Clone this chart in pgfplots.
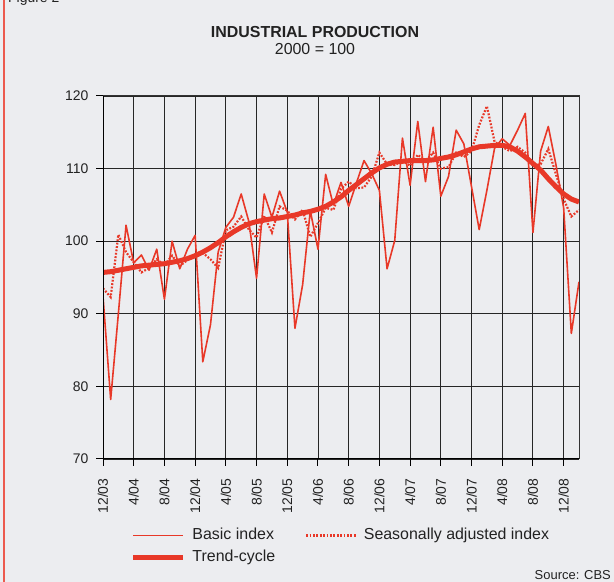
\documentclass[border=0pt]{standalone}
\usepackage{pgfplots}
\pgfplotsset{compat=1.18}
\usepackage{pgfplotstable}
\usepackage{fontspec}
\setmainfont{Liberation Sans}
\definecolor{bg}{RGB}{236,237,240}
\definecolor{ipred}{RGB}{232,56,40}
\definecolor{framered}{RGB}{236,90,78}
\definecolor{txt}{RGB}{34,34,34}
\pgfplotstableread{
i basic sa trend
0 92.4 93.5 95.7
1 78.2 92.3 95.8
2 90.0 100.9 96.0
3 102.2 98.5 96.2
4 97.0 97.1 96.4
5 98.1 95.7 96.6
6 96.0 96.3 96.7
7 98.9 97.5 96.8
8 92.0 96.7 96.9
9 100.0 98.0 97.1
10 96.2 96.6 97.3
11 98.9 97.4 97.6
12 100.8 98.2 98.0
13 83.4 98.4 98.5
14 88.5 97.5 99.1
15 98.5 96.3 99.8
16 101.9 101.5 100.6
17 103.3 102.0 101.3
18 106.5 103.4 101.9
19 102.7 101.6 102.4
20 94.9 100.5 102.7
21 106.5 103.5 102.9
22 103.3 101.2 103.1
23 106.9 104.8 103.2
24 104.0 104.2 103.4
25 88.0 103.0 103.6
26 94.0 104.3 103.9
27 104.2 100.6 104.1
28 98.9 102.5 104.4
29 109.2 104.6 104.8
30 105.0 104.3 105.4
31 108.1 107.2 106.1
32 104.8 108.2 107.0
33 108.0 107.3 107.8
34 111.1 107.4 108.6
35 109.3 108.9 109.4
36 107.0 112.2 110.1
37 96.2 110.6 110.6
38 100.1 110.5 110.9
39 114.2 111.1 111.0
40 107.7 110.4 111.1
41 116.5 111.9 111.1
42 108.2 111.0 111.1
43 115.7 112.2 111.2
44 106.2 110.0 111.4
45 108.9 110.2 111.6
46 115.3 112.2 111.9
47 113.4 111.6 112.3
48 107.5 112.4 112.7
49 101.6 116.0 113.0
50 107.0 118.6 113.1
51 112.8 113.7 113.2
52 114.1 113.0 113.2
53 113.2 112.4 113.0
54 115.3 113.0 112.4
55 117.6 112.2 111.6
56 101.2 110.4 110.7
57 112.4 110.6 109.8
58 115.8 112.7 108.6
59 110.5 109.2 107.5
60 104.6 105.8 106.5
61 87.3 103.4 105.8
62 94.4 104.3 105.4
}\data
\begin{document}
\begin{tikzpicture}[x=1bp,y=1bp]
\useasboundingbox (0,0) rectangle (614,582);
\fill[bg] (0,0) rectangle (614,582);
\draw[framered, line width=2bp] (3.5,0) -- (3.5,582);
\node[anchor=base west, font=\fontsize{14}{16}\selectfont, text=txt, inner sep=0pt] at (8,579) {Figure 2};
\node[anchor=base, font=\fontsize{16}{19}\selectfont\bfseries, text=txt, inner sep=0pt] at (315,544) {INDUSTRIAL PRODUCTION};
\node[anchor=base, font=\fontsize{16}{19}\selectfont, text=txt, inner sep=0pt] at (315,527) {2000 = 100};
\node[anchor=base east, font=\fontsize{13}{15}\selectfont, text=txt, inner sep=0pt] at (611,2.5) {Source: CBS};
\begin{axis}[
  at={(103bp,123bp)}, anchor=south west, scale only axis,
  width=476bp, height=363bp,
  xmin=0, xmax=62, ymin=70, ymax=120,
  xtick={0,4,...,60},
  xticklabels={12/03,4/04,8/04,12/04,4/05,8/05,12/05,4/06,8/06,12/06,4/07,8/07,12/07,4/08,8/08,12/08},
  ytick={70,80,...,120},
  grid=major,
  major grid style={black!85, line width=0.9bp},
  axis line style={black!80, line width=1bp},
  tick align=outside, tick pos=left,
  major tick length=7bp,
  tick style={black, line width=1bp},
  /pgf/number format/assume math mode=true,
  xticklabel shift=9bp,
  yticklabel shift=4bp,
  xticklabel style={rotate=90, anchor=east, font=\fontsize{14}{16}\selectfont, text=txt},
  yticklabel style={font=\fontsize{14}{16}\selectfont, text=txt},
  legend image code/.code={\draw[#1] (0bp,0bp) -- (50bp,0bp);},
  legend style={
    at={(axis description cs:0.0588,-0.19)}, anchor=north west,
    draw=none, fill=none, inner sep=0pt, outer sep=0pt,
    legend columns=2,
    font=\fontsize{16}{19}\selectfont, text=txt,
    row sep=7bp,
    nodes={inner sep=0pt, outer sep=0pt, text height=11.5bp, text depth=3.5bp},
    /tikz/every odd column/.append style={column sep=6.5bp},
    /tikz/every even column/.append style={column sep=30bp},
  },
  legend cell align=left,
]
\addplot[ipred, line width=1.6bp, line join=round] table[x=i, y=basic] {\data};
\addlegendentry{Basic index}
\addplot[ipred, line width=2.2bp, dash pattern=on 1.8bp off 1.6bp] table[x=i, y=sa] {\data};
\addlegendentry{Seasonally adjusted index}
\addplot[ipred, line width=5bp, line join=round] table[x=i, y=trend] {\data};
\addlegendentry{Trend-cycle}
\draw[black, line width=2bp] (rel axis cs:0,0) -- (rel axis cs:0,1);
\draw[black, line width=2bp] (rel axis cs:0,0) -- (rel axis cs:1,0);
\end{axis}
\end{tikzpicture}
\end{document}
